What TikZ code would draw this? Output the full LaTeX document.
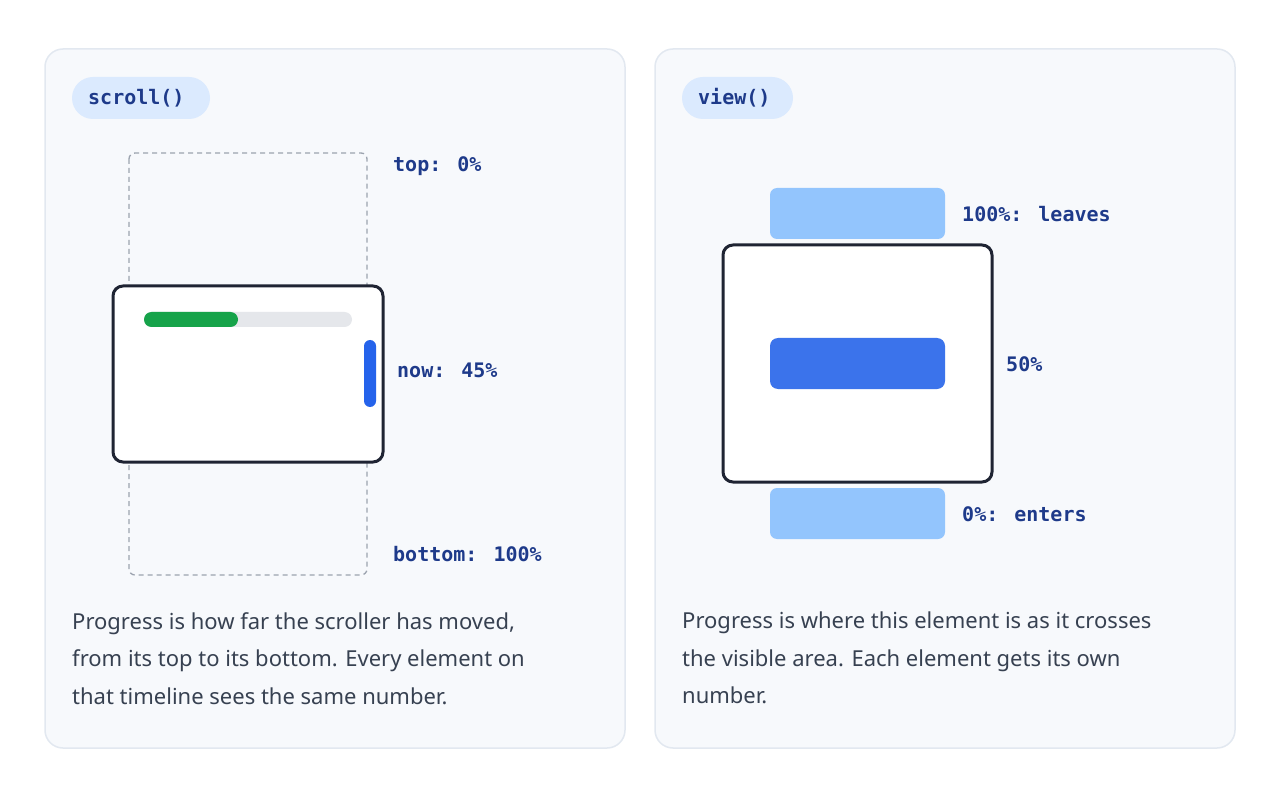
\documentclass[tikz,border=0pt]{standalone}
\usepackage{fontspec}
\setmainfont{Noto Sans}
\newfontfamily\monob{DejaVu Sans Mono}
\begin{document}
\begin{tikzpicture}[x=1pt,y=-1pt,
  panel/.style={draw=panelline,fill=panelbg,line width=1.5pt,rounded corners=18pt},
  pill/.style={fill=pillbg,rounded corners=21pt,inner sep=0pt},
  lab/.style={anchor=west,text=labc,font=\monob\fontsize{20}{24}\selectfont\bfseries,inner sep=0pt},
  body/.style={anchor=north west,text=bodyc,font=\fontsize{22}{37.5}\selectfont,align=left,inner sep=0pt},
  win/.style={draw=winc,fill=white,line width=3pt,rounded corners=10pt},
  lblue/.style={fill=lightb,rounded corners=7pt}]
\definecolor{panelline}{HTML}{E2E8F0}
\definecolor{panelbg}{HTML}{F7F9FC}
\definecolor{pillbg}{HTML}{DBEAFE}
\definecolor{labc}{HTML}{1E3A8A}
\definecolor{bodyc}{HTML}{374151}
\definecolor{winc}{HTML}{1F2433}
\definecolor{lightb}{HTML}{93C5FD}
\definecolor{midb}{HTML}{3B73EB}
\definecolor{thumb}{HTML}{2563EB}
\definecolor{grn}{HTML}{16A34A}
\definecolor{trk}{HTML}{E5E7EB}
\definecolor{dashc}{HTML}{9CA3AF}
\useasboundingbox[fill=white] (0,0) rectangle (1280,802);
% panels
\draw[panel] (45,49) rectangle (625,748);
\draw[panel] (655,49) rectangle (1235,748);
\fill[pill] (72,77) rectangle (210,119);
\node[lab] (p1) at (88,98) {scroll()};
\fill[pill] (682,77) rectangle (793,119);
\node[lab] (p2) at (698,98) {view()};
% left diagram
\draw[draw=dashc,line width=1.3pt,dash pattern=on 5pt off 4pt,rounded corners=6pt] (129,153) rectangle (367,575);
\draw[win] (113,286) rectangle (383,462);
\fill[trk,rounded corners=7.5pt] (144,312) rectangle (352,327);
\fill[grn,rounded corners=7.5pt] (144,312) rectangle (238,327);
\fill[thumb,rounded corners=6pt] (364,340) rectangle (376,407);
\node[lab] (t) at (393,166) {top: 0\%};
\node[lab] (n) at (397,370) {now: 45\%};
\node[lab] (b) at (393,554) {bottom: 100\%};
\node[body] (d1) at (72,612) {Progress is how far the \textbf{scroller} has moved,\\from its top to its bottom. Every element on\\that timeline sees the same number.};
% right diagram
\fill[lblue] (770,188) rectangle (945,239);
\draw[win] (723,245) rectangle (992,482);
\fill[midb,rounded corners=8pt] (770,338) rectangle (945,389);
\fill[lblue] (770,488) rectangle (945,539);
\node[lab] (l) at (962,214) {100\%: leaves};
\node[lab] (m) at (1006,364) {50\%};
\node[lab] (e) at (962,514) {0\%: enters};
\node[body] (d2) at (682,612) {Progress is where \textbf{this element} is as it crosses\\the visible area. Each element gets its own\\number.};
\end{tikzpicture}
\end{document}
